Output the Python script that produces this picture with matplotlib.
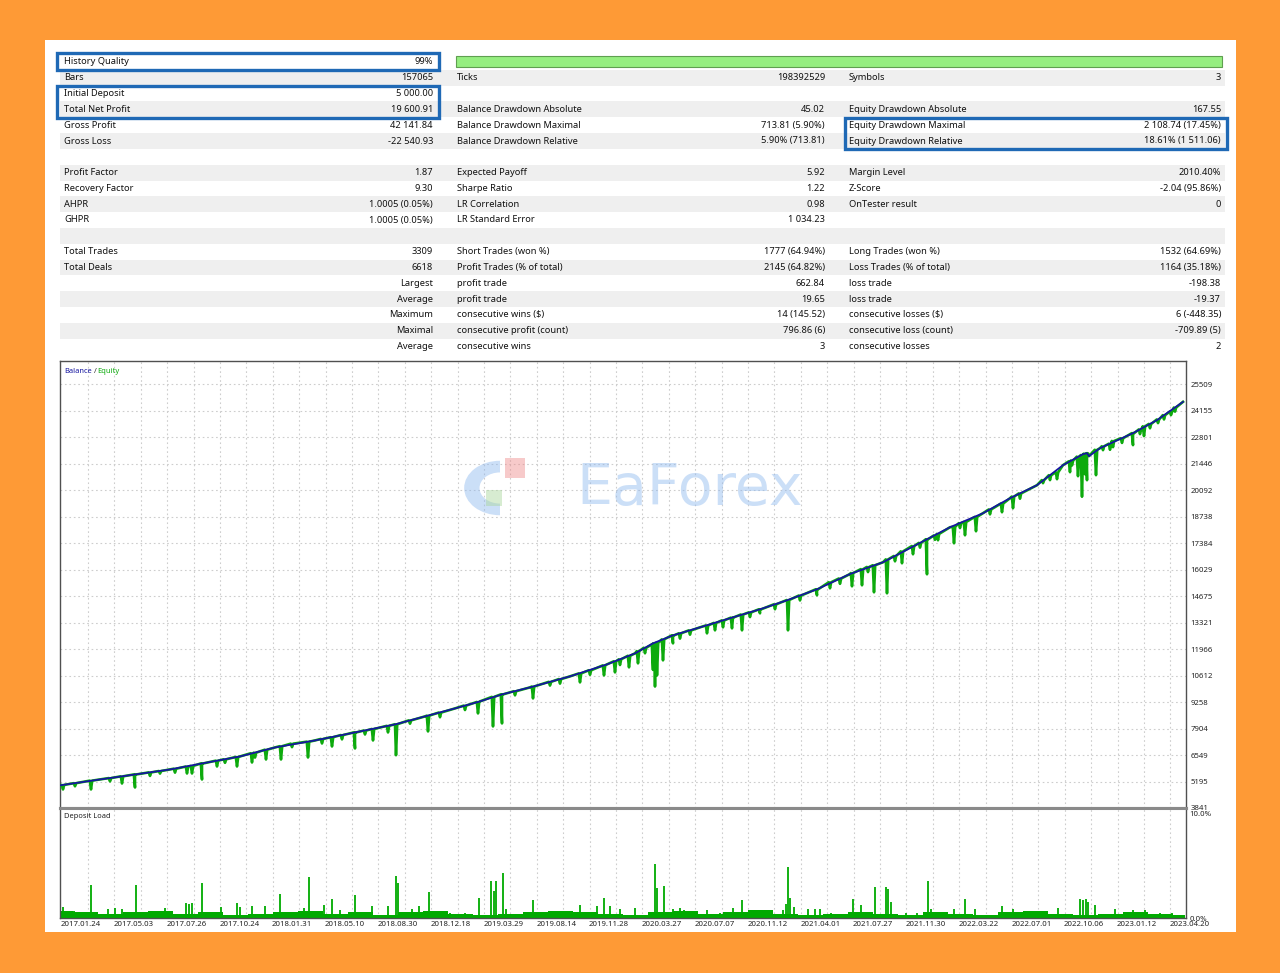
import matplotlib
matplotlib.use("Agg")
import matplotlib.pyplot as plt
from matplotlib.patches import Rectangle, Wedge
import matplotlib.transforms as mtransforms

# Strategy tester report: summary table + balance/equity chart + deposit load

W, H = 1280, 973

# ---- report table (19 rows, 3 column pairs) ----
col1_labels = ["History Quality", "Bars", "Initial Deposit", "Total Net Profit", "Gross Profit", "Gross Loss", "",
               "Profit Factor", "Recovery Factor", "AHPR", "GHPR", "",
               "Total Trades", "Total Deals", "", "", "", "", ""]
col1_values = ["99%", "157065", "5 000.00", "19 600.91", "42 141.84", "-22 540.93", "",
               "1.87", "9.30", "1.0005 (0.05%)", "1.0005 (0.05%)", "",
               "3309", "6618", "Largest", "Average", "Maximum", "Maximal", "Average"]
col2_labels = ["", "Ticks", "", "Balance Drawdown Absolute", "Balance Drawdown Maximal", "Balance Drawdown Relative", "",
               "Expected Payoff", "Sharpe Ratio", "LR Correlation", "LR Standard Error", "",
               "Short Trades (won %)", "Profit Trades (% of total)", "profit trade", "profit trade",
               "consecutive wins (\\$)", "consecutive profit (count)", "consecutive wins"]
col2_values = ["", "198392529", "", "45.02", "713.81 (5.90%)", "5.90% (713.81)", "",
               "5.92", "1.22", "0.98", "1 034.23", "",
               "1777 (64.94%)", "2145 (64.82%)", "662.84", "19.65", "14 (145.52)", "796.86 (6)", "3"]
col3_labels = ["", "Symbols", "", "Equity Drawdown Absolute", "Equity Drawdown Maximal", "Equity Drawdown Relative", "",
               "Margin Level", "Z-Score", "OnTester result", "", "",
               "Long Trades (won %)", "Loss Trades (% of total)", "loss trade", "loss trade",
               "consecutive losses (\\$)", "consecutive loss (count)", "consecutive losses"]
col3_values = ["", "3", "", "167.55", "2 108.74 (17.45%)", "18.61% (1 511.06)", "",
               "2010.40%", "-2.04 (95.86%)", "0", "", "",
               "1532 (64.69%)", "1164 (35.18%)", "-198.38", "-19.37", "6 (-448.35)", "-709.89 (5)", "2"]

# ---- balance curve (x = position along the test, 0..1126) ----
balance_x = [0, 40, 75, 110, 142, 180, 215, 255, 295, 335, 365, 395, 420, 442, 470, 510, 547, 575, 593, 613,
             640, 673, 700, 727, 757, 790, 823, 867, 890, 923, 950, 977, 1003, 1023, 1027, 1029, 1040, 1073, 1097, 1123]
balance_v = [5000, 5300, 5555, 5810, 6118, 6476, 6936, 7294, 7704, 8113, 8523, 8931, 9290, 9648, 10006, 10569,
             11182, 11745, 12257, 12666, 13075, 13587, 13996, 14457, 15020, 15800, 16401, 17577, 18191, 18907,
             19675, 20340, 21364, 21926, 21977, 21824, 22233, 23000, 23665, 24600]

# ---- equity drawdown spikes: position, equity just before, equity low ----
spike_x = [3, 31, 62, 75, 127, 132, 142, 157, 177, 192, 206, 221, 248, 262, 272, 295, 313, 328, 336, 368,
           418, 433, 442, 473, 520, 544, 555, 569, 578, 593, 595, 597, 603, 613, 647, 655, 663, 672, 682, 700,
           728, 757, 770, 792, 802, 814, 827, 842, 853, 867, 878, 894, 905, 916, 942, 953, 983, 997, 1010,
           1018, 1022, 1025, 1027, 1036, 1043, 1053, 1073, 1084, 1098, 1111,
           15, 50, 90, 100, 115, 165, 195, 232, 282, 305, 350, 380, 405, 455, 490, 500, 530, 560, 585, 620,
           630, 690, 715, 740, 780, 808, 835, 860, 875, 900, 930, 960, 990, 1012, 1050, 1062, 1080, 1090,
           1104, 1115]
spike_top = [5020, 5240, 5460, 5555, 5960, 5990, 6118, 6260, 6450, 6640, 6820, 7000, 7230, 7370, 7460, 7704,
             7880, 8040, 8120, 8560, 9260, 9520, 9648, 10050, 10720, 11130, 11340, 11620, 11860, 12200, 12230,
             12280, 12460, 12666, 13170, 13300, 13430, 13570, 13730, 13996, 14470, 15020, 15380, 15850, 16050,
             16250, 16550, 16960, 17230, 17577, 17850, 18210, 18460, 18720, 19400, 19760, 20600, 21000, 21560,
             21800, 21880, 21950, 21960, 22150, 22330, 22600, 23000, 23350, 23700, 24100,
             5110, 5370, 5660, 5730, 5850, 6330, 6670, 7130, 7570, 7800, 8320, 8720, 9075, 9810, 10290, 10430,
             10880, 11440, 12030, 12770, 12920, 13840, 14250, 14700, 15570, 16160, 16720, 17390, 17770, 18400,
             19100, 19920, 20850, 21600, 22460, 22740, 23190, 23470, 23920, 24310]
spike_low = [4790, 4790, 5094, 4890, 5606, 5606, 5299, 5964, 5964, 6168, 6322, 6322, 6424, 7140, 6987, 6885,
             7294, 7704, 6540, 7755, 8676, 8011, 8165, 9443, 10262, 10620, 10774, 11030, 11235, 10900, 10050,
             10620, 11388, 12257, 12768, 12922, 13075, 13024, 12922, 13792, 12922, 14713, 15071, 15173, 15224,
             14866, 14815, 16350, 16810, 15787, 17526, 17372, 17781, 17986, 18958, 19163, 20442, 20647, 21005,
             20800, 19750, 20900, 20596, 20852, 22131, 22285, 22387, 22848, 23512, 23921,
             4950, 5200, 5480, 5600, 5650, 6150, 6420, 6950, 7350, 7600, 8150, 8480, 8850, 9600, 10100, 10200,
             10650, 11150, 11750, 12500, 12700, 13600, 14000, 14450, 15300, 15900, 16450, 17150, 17550, 18150,
             18850, 19650, 20600, 21350, 22150, 22500, 22950, 23250, 23700, 24100]

y_ticks = [3841, 5195, 6549, 7904, 9258, 10612, 11966, 13321, 14675, 16029, 17384, 18738, 20092, 21446,
           22801, 24155, 25509]
date_labels = ["2017.01.24", "2017.05.03", "2017.07.26", "2017.10.24", "2018.01.31", "2018.05.10", "2018.08.30",
               "2018.12.18", "2019.03.29", "2019.08.14", "2019.11.28", "2020.03.27", "2020.07.07", "2020.11.12",
               "2021.04.01", "2021.07.27", "2021.11.30", "2022.03.22", "2022.07.01", "2022.10.06", "2023.01.12",
               "2023.04.20"]

# ---- deposit load (%) ----
load_base = [0.6, 0.5, 0.4, 0.5, 0.6, 0.4, 0.5, 0.3, 0.4, 0.5, 0.6, 0.4, 0.5, 0.3, 0.5, 0.6, 0.4, 0.3, 0.4, 0.5,
             0.6, 0.5, 0.4, 0.3, 0.5, 0.6, 0.4, 0.5, 0.7, 0.4, 0.3, 0.4, 0.5, 0.4, 0.3, 0.5, 0.4, 0.3, 0.5, 0.6,
             0.4, 0.3, 0.4, 0.5, 0.4, 0.3]
load_x = [3, 8, 14, 31, 48, 55, 62, 76, 90, 105, 126, 129, 132, 142, 161, 177, 180, 192, 205, 220, 235, 244,
          249, 264, 272, 280, 295, 312, 328, 336, 338, 352, 359, 369, 390, 405, 419, 431, 434, 436, 443, 446,
          473, 500, 520, 537, 544, 550, 560, 575, 595, 597, 604, 613, 620, 624, 647, 660, 673, 682, 689, 706,
          723, 726, 728, 730, 734, 748, 755, 760, 771, 793, 801, 815, 826, 828, 831, 846, 857, 868, 871, 894,
          905, 915, 942, 953, 978, 998, 1020, 1023, 1026, 1028, 1035, 1055, 1073, 1085, 1100, 1112]
load_v = [1.0, 0.6, 0.6, 3.0, 0.8, 0.9, 0.8, 3.0, 0.6, 0.9, 1.4, 1.3, 1.4, 3.2, 1.0, 1.4, 1.0, 1.1, 1.1, 2.2,
          0.5, 0.9, 3.7, 1.2, 1.7, 0.7, 2.1, 1.1, 1.1, 3.8, 3.2, 0.8, 1.1, 2.4, 0.5, 0.5, 1.8, 3.4, 2.5, 3.4,
          4.1, 0.8, 1.6, 0.5, 1.2, 1.1, 1.8, 1.1, 0.8, 0.9, 4.9, 2.7, 2.9, 0.8, 0.9, 0.7, 0.7, 0.5, 0.9, 1.6,
          0.6, 0.5, 0.7, 1.3, 4.6, 1.8, 1.0, 0.8, 0.8, 0.8, 0.5, 1.7, 1.2, 2.8, 2.8, 2.6, 1.5, 0.5, 0.5, 3.4,
          0.8, 0.8, 1.7, 0.8, 1.1, 0.8, 0.5, 0.9, 1.7, 1.6, 1.7, 1.5, 1.2, 0.8, 0.7, 0.7, 0.5, 0.5]

ORANGE = "#FE9A36"
BLUE_BOX = "#1F69B5"
GREY_ROW = "#EFEFEF"
NAVY = "#1616A0"
GREEN = "#0DAA0D"
GRID = "#CDCDCD"
FONT = "Noto Sans"


def fx(x):
    return x / W


def fy(y):
    return 1 - y / H


fig = plt.figure(figsize=(W / 100, H / 100), dpi=100)
fig.patch.set_facecolor(ORANGE)

# white sheet (drawn under everything)
fig.patches.append(Rectangle((fx(45), fy(932)), fx(1236) - fx(45), fy(40) - fy(932),
                             transform=fig.transFigure, facecolor="white", edgecolor="none", zorder=-5))

# table rows
row_y0, row_h = 62, 15.8
for i in range(len(col1_labels)):
    yc = row_y0 + i * row_h
    if i % 2 == 1:
        fig.patches.append(Rectangle((fx(60), fy(yc + row_h / 2)), fx(1225) - fx(60), row_h / H,
                                     transform=fig.transFigure, facecolor=GREY_ROW, edgecolor="none", zorder=-4))
    kw = dict(fontsize=6.7, family=FONT, va="center", color="#111111")
    fig.text(fx(64), fy(yc), col1_labels[i], ha="left", **kw)
    fig.text(fx(433), fy(yc), col1_values[i], ha="right", **kw)
    fig.text(fx(457), fy(yc), col2_labels[i], ha="left", **kw)
    fig.text(fx(825), fy(yc), col2_values[i], ha="right", **kw)
    fig.text(fx(849), fy(yc), col3_labels[i], ha="left", **kw)
    fig.text(fx(1221), fy(yc), col3_values[i], ha="right", **kw)

# history quality bar
fig.patches.append(Rectangle((fx(456), fy(67)), fx(1222) - fx(456), 11 / H, transform=fig.transFigure,
                             facecolor="#95EE80", edgecolor="#5F9F50", linewidth=0.8, zorder=-3))

# highlight boxes
for (x0, y0, x1, y1) in [(57, 53, 439, 70), (57, 86, 439, 118), (845, 118, 1227, 149)]:
    fig.patches.append(Rectangle((fx(x0), fy(y1)), fx(x1) - fx(x0), (y1 - y0) / H, transform=fig.transFigure,
                                 facecolor="none", edgecolor=BLUE_BOX, linewidth=2.4, zorder=3))

# ---- charts ----
ax = fig.add_axes([fx(60), fy(808), fx(1186) - fx(60), fy(361) - fy(808)])
ax2 = fig.add_axes([fx(60), fy(918), fx(1186) - fx(60), fy(808) - fy(918)])

grid_pos = [28 + 26.4 * k for k in range(42)]
for a in (ax, ax2):
    a.set_xticks(grid_pos)
    a.set_xlim(0, 1126)
    a.tick_params(axis="x", length=0, labelbottom=False)
    a.grid(axis="x", color=GRID, linestyle=(0, (1.5, 2.5)), linewidth=0.8)
    for s in a.spines.values():
        s.set_color("#505050")
        s.set_linewidth(1.0)
    a.set_axisbelow(True)

# equity line: balance points merged with spike triplets
eq_pts = list(zip(balance_x, balance_v))
for x, t, lo in zip(spike_x, spike_top, spike_low):
    eq_pts += [(x - 1.2, t), (x, lo), (x + 1.2, t)]
eq_pts.sort()
ax.plot([p[0] for p in eq_pts], [p[1] for p in eq_pts], color=GREEN, linewidth=1.9, zorder=3)
ax.plot(balance_x, balance_v, color=NAVY, linewidth=1.3, zorder=4)

ax.set_yticks(y_ticks)
ax.set_ylim(3841, 26687)
ax.yaxis.tick_right()
ax.tick_params(axis="y", length=0, pad=3, labelsize=5.6, labelcolor="#222222")
for lab in ax.get_yticklabels():
    lab.set_family(FONT)
ax.grid(axis="y", color=GRID, linestyle=(0, (1.5, 2.5)), linewidth=0.8)
ax.spines["bottom"].set_color("#8a8a8a")
ax.spines["bottom"].set_linewidth(2.2)

ax.text(0.0035, 0.985, "Balance", transform=ax.transAxes, fontsize=5.4, family=FONT, color=NAVY, va="top")
ax.text(0.0300, 0.985, "/", transform=ax.transAxes, fontsize=5.4, family=FONT, color="#333333", va="top")
ax.text(0.0335, 0.985, "Equity", transform=ax.transAxes, fontsize=5.4, family=FONT, color=GREEN, va="top")

# deposit load
ax2.set_ylim(0, 10)
ax2.set_yticks([])
ax2.fill_between(range(0, 25 * len(load_base), 25), load_base, step="mid", color="#00AA00", linewidth=0, zorder=2)
ax2.vlines(load_x, 0, load_v, color="#00AA00", linewidth=1.3, zorder=3)
ax2.spines["top"].set_color("#8a8a8a")
ax2.spines["top"].set_linewidth(2.2)
ax2.text(0.0035, 0.95, "Deposit Load", transform=ax2.transAxes, fontsize=5.4, family=FONT, color="#222222", va="top")
ax2.text(1.003, 0.94, "10.0%", transform=ax2.transAxes, fontsize=5.6, family=FONT, color="#222222", va="center")
ax2.text(1.003, -0.01, "0.0%", transform=ax2.transAxes, fontsize=5.6, family=FONT, color="#222222", va="center")

shift = mtransforms.ScaledTranslation(-7 / 100, -7 / 100, fig.dpi_scale_trans)
lab_tr = mtransforms.blended_transform_factory(ax2.transData, ax2.transAxes) + shift
for j, lab in enumerate(date_labels):
    ax2.text(28 + 52.8 * j, 0, lab, transform=lab_tr, fontsize=5.6, family=FONT, color="#222222",
             ha="center", va="center", clip_on=False)

# watermark (logo + name)
fig.patches.append(Wedge((fx(500), fy(488)), 0.028, 90, 270, width=0.012, transform=fig.transFigure,
                         facecolor="#8DB8EE", alpha=0.45, zorder=5))
fig.patches.append(Rectangle((fx(505), fy(478)), 20 / W, 20 / H, transform=fig.transFigure,
                             facecolor="#EE8A8A", alpha=0.45, zorder=5))
fig.patches.append(Rectangle((fx(486), fy(506)), 16 / W, 16 / H, transform=fig.transFigure,
                             facecolor="#A8D69A", alpha=0.45, zorder=5))
fig.text(fx(690), fy(489), "EaForex", fontsize=41, family="DejaVu Sans",
         color="#8DB8EE", alpha=0.45, ha="center", va="center", zorder=5)

fig.savefig("out.png", dpi=100, facecolor=fig.get_facecolor())
